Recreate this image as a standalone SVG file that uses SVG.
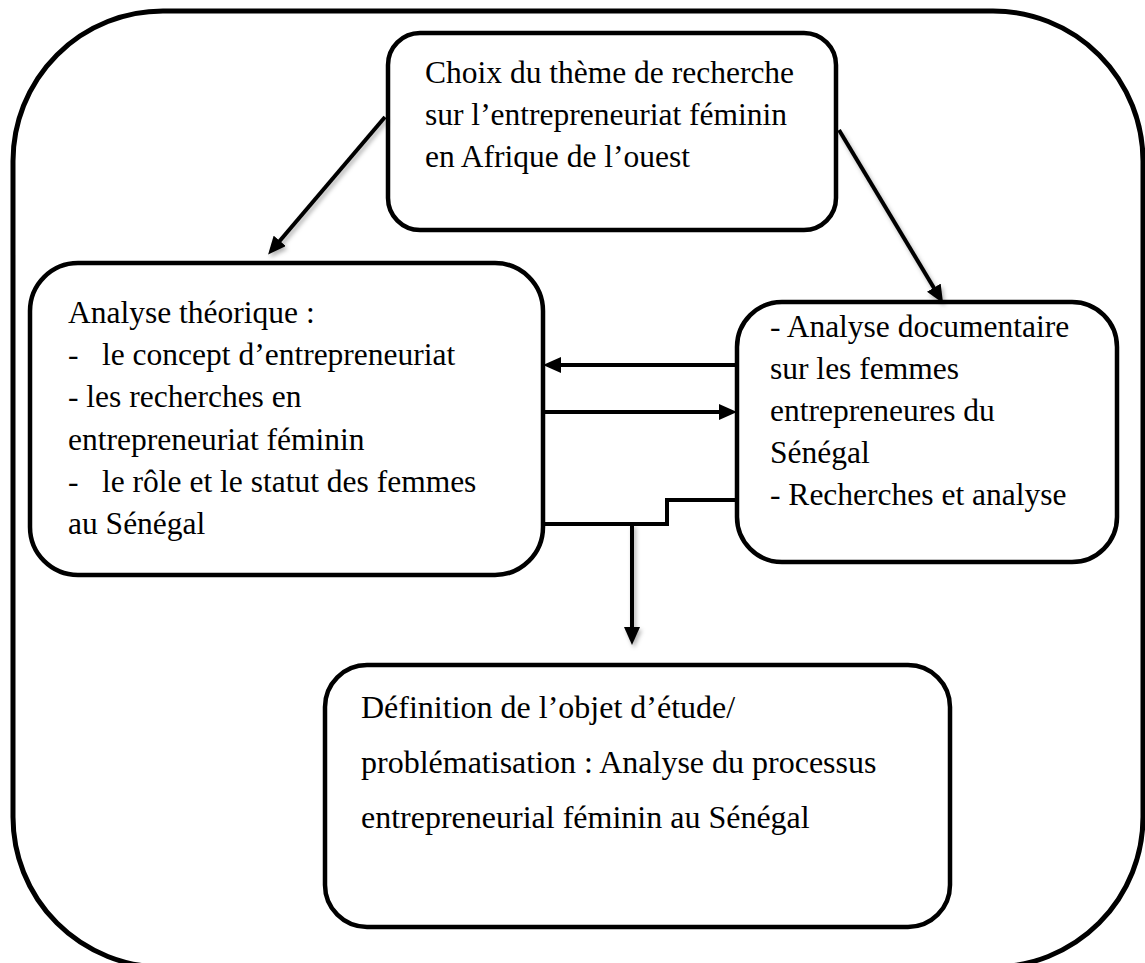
<svg xmlns="http://www.w3.org/2000/svg" width="1145" height="963" viewBox="0 0 1145 963">
  <style>
    .frame { fill: #ffffff; stroke: #000000; stroke-width: 5; }
    .box { fill: #ffffff; stroke: #000000; stroke-width: 4.5; }
    .label { font-family: "Liberation Serif", "Times New Roman", serif; font-size: 31.5px; fill: #000000; }
    .label-lg { font-family: "Liberation Serif", "Times New Roman", serif; font-size: 32px; fill: #000000; }
    .link { fill: none; stroke: #000000; stroke-width: 4; }
    .arrow { marker-end: url(#head); }
    .shadowed { filter: url(#soft-shadow); }
  </style>
  <defs>
    <marker id="head" viewBox="0 0 18 16" refX="12" refY="8" markerWidth="18" markerHeight="16" markerUnits="userSpaceOnUse" orient="auto">
      <path d="M0,0 L18,8 L0,16 z" fill="#000000"/>
    </marker>
    <filter id="soft-shadow" filterUnits="userSpaceOnUse" x="0" y="0" width="1145" height="963">
      <feDropShadow dx="2" dy="3" stdDeviation="2" flood-color="#000000" flood-opacity="0.3"/>
    </filter>
  </defs>

  <rect width="1145" height="963" fill="#ffffff"/>

  <!-- outer frame -->
  <g id="frame">
    <rect class="frame" x="13" y="11" width="1130" height="956" rx="150" ry="150"/>
  </g>

  <!-- research theme -->
  <g id="theme">
    <rect class="box" x="388" y="33" width="448" height="197" rx="32" ry="32"/>
    <text class="label">
      <tspan x="425" y="83">Choix du thème de recherche</tspan>
      <tspan x="425" y="125">sur l’entrepreneuriat féminin</tspan>
      <tspan x="425" y="167">en Afrique de l’ouest</tspan>
    </text>
  </g>

  <!-- theoretical analysis -->
  <g id="theory">
    <rect class="box" x="30" y="263" width="513" height="312" rx="48" ry="48"/>
    <text class="label">
      <tspan x="68" y="323">Analyse théorique :</tspan>
      <tspan x="68" y="365">-</tspan><tspan x="102" y="365">le concept d’entrepreneuriat</tspan>
      <tspan x="68" y="407">- les recherches en</tspan>
      <tspan x="68" y="450">entrepreneuriat féminin</tspan>
      <tspan x="68" y="492">-</tspan><tspan x="102" y="492">le rôle et le statut des femmes</tspan>
      <tspan x="68" y="534">au Sénégal</tspan>
    </text>
  </g>

  <!-- documentary analysis -->
  <g id="documents">
    <rect class="box" x="737" y="302" width="380" height="260" rx="45" ry="45"/>
    <text class="label">
      <tspan x="770" y="337">- Analyse documentaire</tspan>
      <tspan x="770" y="379">sur les femmes</tspan>
      <tspan x="770" y="421">entrepreneures du</tspan>
      <tspan x="770" y="463">Sénégal</tspan>
      <tspan x="770" y="505">- Recherches et analyse</tspan>
    </text>
  </g>

  <!-- research object -->
  <g id="object">
    <rect class="box" x="325" y="665" width="625" height="262" rx="42" ry="42"/>
    <text class="label-lg">
      <tspan x="361" y="718">Définition de l’objet d’étude/</tspan>
      <tspan x="361" y="773">problématisation : Analyse du processus</tspan>
      <tspan x="361" y="828">entrepreneurial féminin au Sénégal</tspan>
    </text>
  </g>

  <!-- connectors -->
  <g id="connectors">
    <line class="link arrow shadowed" x1="385" y1="117" x2="272" y2="250"/>
    <line class="link arrow shadowed" x1="839" y1="130" x2="940" y2="298"/>
    <line class="link arrow" x1="737" y1="365" x2="549" y2="365"/>
    <line class="link arrow" x1="543" y1="412" x2="731" y2="412"/>
    <polyline class="link" points="737,500 667,500 667,524 543,524"/>
    <line class="link arrow shadowed" x1="632" y1="524" x2="632" y2="639"/>
  </g>
</svg>
